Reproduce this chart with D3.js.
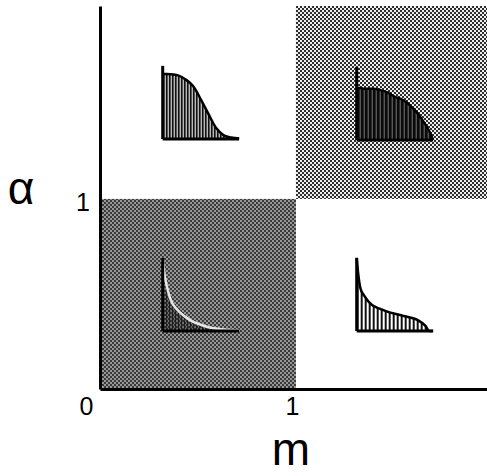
<!DOCTYPE html>
<html>
<head>
<meta charset="utf-8">
<script src="https://cdn.jsdelivr.net/npm/d3@7"></script>
<style>
  body { margin: 0; background: #fff; }
  text { font-family: "Liberation Sans", Arial, sans-serif; fill: #000; }
</style>
</head>
<body>
<svg class="chart"></svg>
<script>
// inset curves, sampled on a shared x grid (0..1 across each little plot)
var gridX      = [0, 0.02, 0.05, 0.1, 0.2, 0.3, 0.4, 0.5, 0.6, 0.7, 0.8, 0.9, 0.95, 1];
var tlDensity  = [0.89, 0.89, 0.89, 0.887, 0.87, 0.815, 0.72, 0.54, 0.34, 0.15, 0.05, 0.02, 0.014, 0.01];
var trDensity  = [0.71, 0.71, 0.71, 0.70, 0.70, 0.685, 0.65, 0.59, 0.55, 0.47, 0.36, 0.21, 0.12, 0];
var blDensity  = [1.0, 0.80, 0.63, 0.44, 0.28, 0.19, 0.125, 0.085, 0.052, 0.035, 0.02, 0.014, 0.012, 0.01];
var brDensity  = [1.0, 0.78, 0.58, 0.48, 0.355, 0.305, 0.265, 0.235, 0.21, 0.185, 0.15, 0.07, 0, 0];

var xTicks = [0, 1],
    yTicks = [1];
var xLabel = "m",
    yLabel = "α";

var width = 487, height = 476;
var chart = d3.select(".chart")
    .attr("width", width)
    .attr("height", height);

var x = d3.scaleLinear().domain([0, 1.975]).range([100, 487]),
    y = d3.scaleLinear().domain([0, 2.015]).range([389, 6]);

// textures
var defs = chart.append("defs");
function checker(id, base, dot) {
  var p = defs.append("pattern").attr("id", id)
      .attr("patternUnits", "userSpaceOnUse").attr("width", 4).attr("height", 4);
  p.append("rect").attr("width", 4).attr("height", 4).attr("fill", base);
  p.append("rect").attr("width", 2).attr("height", 2).attr("fill", dot);
  p.append("rect").attr("x", 2).attr("y", 2).attr("width", 2).attr("height", 2).attr("fill", dot);
}
checker("checkLight", "#2e2e2e", "#eeeeee");
checker("checkDark", "#3a3a3a", "#979797");

function hatch(id, w, lineW, bg, ink) {
  var p = defs.append("pattern").attr("id", id)
      .attr("patternUnits", "userSpaceOnUse").attr("width", w).attr("height", 8);
  if (bg) p.append("rect").attr("width", w).attr("height", 8).attr("fill", bg);
  p.append("rect").attr("width", lineW).attr("height", 8).attr("fill", ink);
}
hatch("hatchTL", 3, 2, "#fff", "#111");
hatch("hatchTR", 4, 3, "#777", "#0a0a0a");
hatch("hatchBL", 3, 1.5, null, "#111");
hatch("hatchBR", 4, 2, "#fff", "#111");

// shaded regions
chart.append("rect")
    .attr("x", x(1)).attr("y", y(2.015))
    .attr("width", x(1.975) - x(1)).attr("height", y(1) - y(2.015))
    .attr("fill", "url(#checkLight)");
chart.append("rect")
    .attr("x", x(0)).attr("y", y(1))
    .attr("width", x(1) - x(0)).attr("height", y(0) - y(1))
    .attr("fill", "url(#checkDark)");

// insets
var insetW = 0.39, insetH = 0.385;
var insets = [
  {m: 0.32, a: 1.315, values: tlDensity, fill: "url(#hatchTL)", stroke: "#000"},
  {m: 1.31, a: 1.31,  values: trDensity, fill: "url(#hatchTR)", stroke: "#000"},
  {m: 0.32, a: 0.305, values: blDensity, fill: "url(#hatchBL)", stroke: "#e6e6e6"},
  {m: 1.31, a: 0.305, values: brDensity, fill: "url(#hatchBR)", stroke: "#000"}
];

insets.forEach(function(ins) {
  var g = chart.append("g")
      .attr("transform", "translate(" + x(ins.m) + "," + y(ins.a) + ")");
  var lx = d3.scaleLinear().domain([0, 1]).range([0, x(ins.m + insetW) - x(ins.m)]),
      ly = d3.scaleLinear().domain([0, 1]).range([0, y(ins.a + insetH) - y(ins.a)]);
  var pts = gridX.map(function(d, i) { return {t: d, v: ins.values[i]}; });

  var area = d3.area()
      .curve(d3.curveMonotoneX)
      .x(function(d) { return lx(d.t); })
      .y0(0)
      .y1(function(d) { return ly(d.v); });
  var line = d3.line()
      .curve(d3.curveMonotoneX)
      .x(function(d) { return lx(d.t); })
      .y(function(d) { return ly(d.v); });

  g.append("path").datum(pts).attr("d", area).attr("fill", ins.fill);
  g.append("path").datum(pts).attr("d", line)
      .attr("fill", "none").attr("stroke", ins.stroke).attr("stroke-width", 2.5);
  g.append("line")
      .attr("x1", lx(0)).attr("x2", lx(0)).attr("y1", ly(0)).attr("y2", ly(1))
      .attr("stroke", "#000").attr("stroke-width", 3);
  g.append("line")
      .attr("x1", lx(0)).attr("x2", lx(1)).attr("y1", ly(0)).attr("y2", ly(0))
      .attr("stroke", "#000").attr("stroke-width", 3);
});

// axes
var xAxis = chart.append("g")
    .attr("transform", "translate(0," + y(0) + ")")
    .call(d3.axisBottom(x).tickValues(xTicks).tickFormat(d3.format("d"))
        .tickSize(0).tickPadding(8));
xAxis.selectAll("text")
    .attr("font-size", 25)
    .attr("dx", function(d) { return d === 0 ? -14 : -4; });

var yAxis = chart.append("g")
    .attr("transform", "translate(" + x(0) + ",0)")
    .call(d3.axisLeft(y).tickValues(yTicks).tickFormat(d3.format("d"))
        .tickSize(0).tickPadding(10));
yAxis.selectAll("text")
    .attr("font-size", 25)
    .attr("dy", "0.45em");

chart.selectAll(".domain").attr("stroke", "#000").attr("stroke-width", 3);
chart.selectAll(".tick text").attr("font-family", null);

chart.append("text")
    .attr("x", 291).attr("y", 465)
    .attr("text-anchor", "middle")
    .attr("font-size", 46)
    .text(xLabel);

chart.append("text")
    .attr("x", 21).attr("y", 204)
    .attr("text-anchor", "middle")
    .attr("font-size", 46)
    .text(yLabel);
</script>
</body>
</html>
